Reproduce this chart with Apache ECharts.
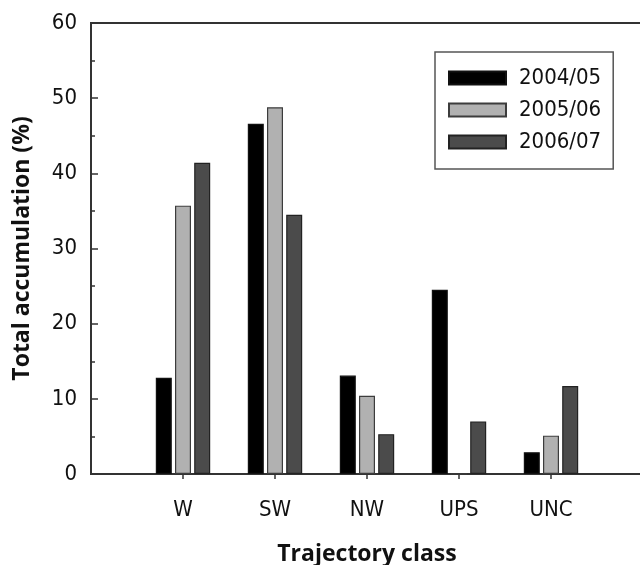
<!DOCTYPE html>
<html>
<head>
<meta charset="utf-8">
<title>Total accumulation by trajectory class</title>
<script src="https://cdn.jsdelivr.net/npm/echarts@6/dist/echarts.min.js"></script>
<style>
  html, body { margin: 0; padding: 0; background: #fff; }
  #chart { width: 640px; height: 565px; }
</style>
</head>
<body>
<div id="chart"></div>
<script>
// Trajectory classes and the share of total accumulation (%) for each season
var categories = ['W', 'SW', 'NW', 'UPS', 'UNC'];
var seasons = ['2004/05', '2005/06', '2006/07'];
var season2004 = [12.8, 46.6, 13.1, 24.5, 2.9];
var season2005 = [35.7, 48.8, 10.4, 0, 5.1];
var season2006 = [41.4, 34.5, 5.3, 7.0, 11.7];
var yTicks = [0, 10, 20, 30, 40, 50, 60];

// Empty slots at both ends leave one category of space either side
var axisCategories = [''].concat(categories, ['']);
function pad(values) { return [null].concat(values, [null]); }

var labelFont = "'DejaVu Sans Condensed', 'Liberation Sans Narrow', 'DejaVu Sans', sans-serif";
var titleFont = "'Open Sans', 'DejaVu Sans', sans-serif";
var ink = '#111';
var axisColor = '#333';

var fills = ['#000000', '#b1b1b1', '#4b4b4b'];
var borders = ['#111111', '#3c3c3c', '#222222'];
var seriesValues = [season2004, season2005, season2006];

var chart = echarts.init(document.getElementById('chart'), null, { renderer: 'canvas' });

chart.setOption({
  animation: false,
  backgroundColor: '#fff',
  // the frame runs past the right edge of the canvas, so only three sides show
  grid: {
    left: 91, width: 552, top: 23, height: 451,
    outerBoundsMode: 'none',
    containLabel: false,
    show: true, borderColor: axisColor, borderWidth: 2, backgroundColor: 'transparent'
  },
  legend: {
    left: 435, top: 52,
    orient: 'vertical',
    data: seasons,
    itemWidth: 57, itemHeight: 13, itemGap: 10,
    padding: [15, 12, 16, 13],
    borderColor: '#555', borderWidth: 1.5, borderRadius: 0,
    icon: 'rect',
    selectedMode: false,
    textStyle: {
      fontFamily: labelFont, fontSize: 22, color: ink, lineHeight: 22,
      padding: [0, 0, 0, 8]
    }
  },
  xAxis: {
    type: 'category',
    data: axisCategories,
    boundaryGap: false,
    name: 'Trajectory class',
    nameLocation: 'middle',
    nameGap: 69,
    nameTextStyle: { fontFamily: titleFont, fontWeight: 'bold', fontSize: 23, color: ink },
    axisLine: { lineStyle: { color: axisColor, width: 2 } },
    axisTick: {
      show: true, length: 5, inside: false,
      lineStyle: { color: axisColor, width: 1.5 },
      interval: function (index, value) { return value !== ''; }
    },
    axisLabel: {
      margin: 25, fontFamily: labelFont, fontSize: 22, color: ink,
      interval: 0
    },
    splitLine: { show: false }
  },
  yAxis: {
    type: 'value',
    min: yTicks[0], max: yTicks[yTicks.length - 1], interval: 10,
    name: 'Total accumulation (%)',
    nameLocation: 'middle',
    nameGap: 57,
    nameTextStyle: { fontFamily: titleFont, fontWeight: 'bold', fontSize: 23, color: ink },
    axisLine: { show: true, lineStyle: { color: axisColor, width: 2 } },
    axisTick: { show: true, inside: true, length: 7, lineStyle: { color: axisColor, width: 1.5 } },
    minorTick: { show: true, splitNumber: 2, length: 4, lineStyle: { color: axisColor, width: 1.5 } },
    axisLabel: { margin: 14, fontFamily: labelFont, fontSize: 22, color: ink },
    splitLine: { show: false }
  },
  series: seasons.map(function (name, i) {
    return {
      name: name,
      type: 'bar',
      data: pad(seriesValues[i]),
      barWidth: 16,
      barGap: '20%',
      itemStyle: { color: fills[i], borderColor: borders[i], borderWidth: 1.2 }
    };
  })
});
</script>
</body>
</html>
